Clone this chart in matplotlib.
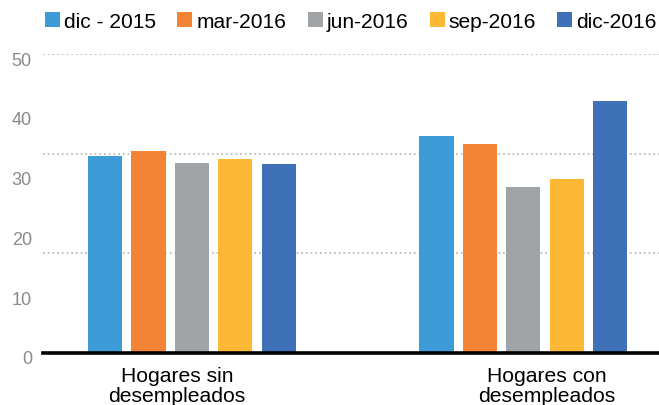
import numpy as np
import matplotlib
matplotlib.use('Agg')
import matplotlib.pyplot as plt
import matplotlib.transforms as mtransforms
from matplotlib.patches import Patch

plt.rcParams['font.family'] = ['Liberation Sans', 'DejaVu Sans']

# data
categories = ['Hogares sin\ndesempleados', 'Hogares con\ndesempleados']
series = ['dic - 2015', 'mar-2016', 'jun-2016', 'sep-2016', 'dic-2016']
values = [
    [32.9, 36.3],   # dic - 2015
    [33.8, 34.9],   # mar-2016
    [31.8, 27.8],   # jun-2016
    [32.4, 29.1],   # sep-2016
    [31.6, 42.1],   # dic-2016
]
colors = ['#3d9cd8', '#f48435', '#a0a4a6', '#fdb935', '#3f71b8']
yticks = [0, 10, 20, 30, 40, 50]

fig = plt.figure(figsize=(6.59, 4.06), dpi=100)
ax = fig.add_axes([43 / 659, 52 / 406, 1 - 43 / 659, (354 - 55) / 406])

x = np.arange(len(categories))
step = 0.131
width = 0.103
for i, (name, vals) in enumerate(zip(series, values)):
    ax.bar(x + (i - 2) * step, vals, width, color=colors[i], label=name, zorder=3)

ax.set_xlim(-0.449, 1.409)
ax.set_ylim(0, 50)

# dotted grid lines (every 50/3 like the original)
for g in [50 / 3, 100 / 3, 50]:
    ax.axhline(g, color='#bdbdbd', lw=1.3, ls=(0, (1, 1.6)), zorder=1)

for s in ['top', 'right', 'left']:
    ax.spines[s].set_visible(False)
ax.spines['bottom'].set_linewidth(2.6)
ax.spines['bottom'].set_color('black')
ax.spines['bottom'].set_zorder(4)

ax.set_yticks(yticks)
ax.set_yticklabels([str(t) for t in yticks], color='#8a8a8a', fontsize=13)
ax.tick_params(axis='y', length=0, pad=8)
off = mtransforms.ScaledTranslation(0, -4 / 100, fig.dpi_scale_trans)
for lab in ax.get_yticklabels():
    lab.set_transform(lab.get_transform() + off)

ax.set_xticks([-0.045, 1.071])
ax.set_xticklabels(categories, fontsize=15.2, color='black', linespacing=1.03)
ax.tick_params(axis='x', length=0, pad=9.5)

handles = [Patch(facecolor=c, edgecolor='none') for c in colors]
fig.legend(handles, series, loc='center left', bbox_to_anchor=(45 / 659, 1 - 22.5 / 406),
           ncol=5, frameon=False, fontsize=15.1, handlelength=0.72, handleheight=0.72,
           handletextpad=0.2, columnspacing=1.0, borderaxespad=0, borderpad=0)

fig.savefig('out.png', dpi=100)
